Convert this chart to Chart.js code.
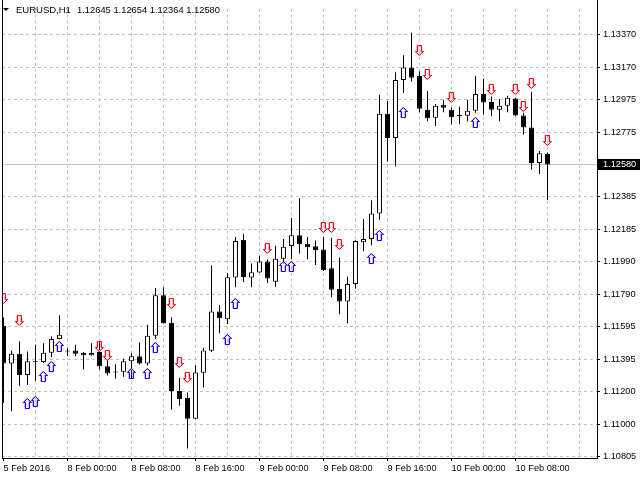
<!DOCTYPE html>
<html><head><meta charset="utf-8">
<style>html,body{margin:0;padding:0;background:#fff;overflow:hidden}#wrap{width:640px;height:480px}</style>
<script src="https://cdn.jsdelivr.net/npm/chart.js@4.4.1/dist/chart.umd.min.js"></script>
</head><body><div id="wrap"><canvas id="c" width="640" height="480"></canvas></div>
<script>
const symbolLabel = 'EURUSD,H1';
const opens = [1.11600,1.11370,1.11430,1.11300,1.11382,1.11380,1.11436,1.11520,1.11446,1.11450,
1.11434,1.11420,1.11440,1.11354,1.11318,1.11320,1.11384,1.11414,1.11370,1.11540,
1.11786,1.11618,1.11204,1.11162,1.11035,1.11314,1.11448,1.11686,1.11640,1.11894,
1.12123,1.11894,1.11924,1.11990,1.11867,1.12008,1.12085,1.12151,1.12099,1.12083,
1.12063,1.11949,1.11824,1.11747,1.11854,1.12107,1.12127,1.12283,1.12889,1.12742,
1.13094,1.13170,1.13118,1.12913,1.12865,1.12944,1.12913,1.12878,1.12877,1.12907,
1.13009,1.12961,1.12913,1.12937,1.12982,1.12878,1.12805,1.12589,1.12645];
const highs = [1.11650,1.11450,1.11504,1.11444,1.11484,1.11494,1.11536,1.11664,1.11464,1.11484,
1.11440,1.11494,1.11500,1.11388,1.11366,1.11400,1.11434,1.11500,1.11606,1.11830,
1.11834,1.11650,1.11284,1.11194,1.11360,1.11466,1.11967,1.11726,1.11919,1.12139,
1.12159,1.11979,1.12026,1.12003,1.12087,1.12127,1.12255,1.12375,1.12139,1.12119,
1.12139,1.12135,1.12015,1.11900,1.12120,1.12249,1.12363,1.13004,1.12967,1.13142,
1.13244,1.13382,1.13148,1.13028,1.12949,1.12974,1.12928,1.12932,1.12974,1.13118,
1.13102,1.12994,1.12979,1.12998,1.12986,1.12895,1.13022,1.12663,1.12654];
const lows = [1.11130,1.11080,1.11234,1.11240,1.11266,1.11374,1.11410,1.11518,1.11416,1.11414,
1.11334,1.11418,1.11334,1.11298,1.11280,1.11290,1.11280,1.11364,1.11359,1.11520,
1.11614,1.11089,1.11113,1.10854,1.11032,1.11224,1.11440,1.11554,1.11610,1.11834,
1.11866,1.11834,1.11922,1.11860,1.11836,1.11978,1.12005,1.12039,1.12005,1.11969,
1.11933,1.11774,1.11670,1.11616,1.11825,1.12053,1.12089,1.12245,1.12599,1.12569,
1.13015,1.13084,1.12898,1.12844,1.12814,1.12898,1.12825,1.12825,1.12844,1.12895,
1.12884,1.12874,1.12844,1.12898,1.12874,1.12763,1.12549,1.12523,1.12364];
const closes = [1.11370,1.11430,1.11300,1.11384,1.11378,1.11436,1.11520,1.11546,1.11444,1.11430,
1.11420,1.11434,1.11354,1.11310,1.11316,1.11384,1.11414,1.11370,1.11540,1.11786,
1.11616,1.11203,1.11155,1.11034,1.11316,1.11450,1.11686,1.11646,1.11895,1.12115,
1.11897,1.11925,1.11990,1.11888,1.12008,1.12080,1.12151,1.12095,1.12077,1.12059,
1.11939,1.11819,1.11747,1.11854,1.12115,1.12127,1.12283,1.12889,1.12742,1.13094,
1.13170,1.13108,1.12919,1.12862,1.12938,1.12925,1.12868,1.12875,1.12907,1.13009,
1.12958,1.12913,1.12937,1.12986,1.12878,1.12805,1.12589,1.12649,1.12580];

const xTickBars = [0,8,16,24,32,40,48,56,64];
const xTickLabels = ['5 Feb 2016','8 Feb 00:00','8 Feb 08:00','8 Feb 16:00','9 Feb 00:00','9 Feb 08:00','9 Feb 16:00','10 Feb 00:00','10 Feb 08:00'];
const yTickLabels = ['1.13370','1.13170','1.12975','1.12775','1.12385','1.12185','1.11990','1.11790','1.11595','1.11395','1.11200','1.11000','1.10805'];

const sellBars   = [0,2,12,13,21,22,23,33,40,41,42,52,53,56,61,64,65,66,68];
const sellLevels = [1.11764,1.11635,1.11473,1.11422,1.11737,1.11377,1.11287,1.12072,1.12195,1.12195,1.12096,1.13274,1.13127,1.12986,1.13037,1.13034,1.12935,1.13073,1.12726];
const buyBars    = [3,4,5,6,7,16,18,19,28,29,35,36,46,47,50,59];
const buyLevels  = [1.11125,1.11137,1.11293,1.11353,1.11473,1.11311,1.11311,1.11467,1.11518,1.11737,1.11958,1.11958,1.12006,1.12147,1.12899,1.12837];

const FONT = 'Liberation Sans';

function makeArrow(up, color, fringe) {
  const c = document.createElement('canvas');
  c.width = 11; c.height = 11;
  const g = c.getContext('2d');
  const pts = [[4.5,0.5],[8.5,4.5],[6.5,4.5],[6.5,10.5],[2.5,10.5],[2.5,4.5],[0.5,4.5]];
  function path(dx) {
    g.beginPath();
    pts.forEach((p, k) => {
      const x = p[0] + dx, y = up ? p[1] : 11 - p[1];
      if (k) g.lineTo(x, y); else g.moveTo(x, y);
    });
    g.closePath();
  }
  g.lineWidth = 1;
  g.strokeStyle = fringe; path(0); g.stroke();
  g.strokeStyle = color; path(1); g.stroke();
  return c;
}
const upImg = makeArrow(true, '#0000ff', '#d8b0ff');
const downImg = makeArrow(false, '#ff0000', '#ffb8f0');

const wickData = opens.map((o, i) => ({x: i, y: [lows[i], highs[i]]}));
const bodyData = opens.map((o, i) => ({x: i, y: [o, closes[i]]}));
const bodyColors = opens.map((o, i) => closes[i] > o ? '#ffffff' : '#000000');
const buyData = buyBars.map((b, k) => ({x: b, y: buyLevels[k]}));
const sellData = sellBars.map((b, k) => ({x: b, y: sellLevels[k]}));

const overlay = {
  id: 'overlay',
  beforeDraw(chart) { chart.ctx.imageSmoothingEnabled = false; },
  beforeDatasetsDraw(chart) {
    const {ctx, chartArea: a, scales: {y}} = chart;
    ctx.imageSmoothingEnabled = false;
    const py = Math.floor(y.getPixelForValue(closes[closes.length - 1])) + 0.5;
    ctx.save();
    ctx.strokeStyle = '#c0c0c0'; ctx.lineWidth = 1;
    ctx.beginPath(); ctx.moveTo(a.left, py); ctx.lineTo(a.right, py); ctx.stroke();
    ctx.restore();
  },
  afterDraw(chart) {
    const {ctx, chartArea: a, scales: {y}} = chart;
    ctx.save();
    ctx.fillStyle = '#000';
    ctx.fillRect(a.left, 0, 1, a.bottom + 1);
    ctx.fillRect(a.right, 0, 1, a.bottom + 1);
    ctx.fillRect(a.left, a.bottom, a.right - a.left + 1, 1);
    const last = closes[closes.length - 1];
    const py = Math.floor(y.getPixelForValue(last));
    ctx.fillRect(a.right + 1, py - 5, 640 - a.right - 1, 11);
    ctx.fillStyle = '#fff';
    ctx.font = '9.2px "' + FONT + '"';
    ctx.textBaseline = 'middle';
    ctx.fillText(last.toFixed(5), a.right + 6, py + 0.5);
    ctx.fillStyle = '#000';
    ctx.beginPath(); ctx.moveTo(3, 8); ctx.lineTo(9, 8); ctx.lineTo(6, 11); ctx.closePath(); ctx.fill();
    ctx.font = '9.5px "' + FONT + '"';
    ctx.fillText(symbolLabel, 16, 10.5);
    const n = opens.length - 1;
    const txt = [opens[n], highs[n], lows[n], closes[n]].map(v => v.toFixed(5)).join(' ');
    ctx.fillText(txt, 77, 10.5, 143);
    ctx.restore();
  }
};

new Chart(document.getElementById('c'), {
  type: 'bar',
  data: {
    datasets: [
      {type: 'bar', data: wickData, backgroundColor: '#000', borderWidth: 0, barThickness: 1, grouped: false, inflateAmount: 0, order: 3, clip: 0},
      {type: 'bar', data: bodyData, backgroundColor: bodyColors, borderColor: '#000', borderWidth: 1, borderSkipped: false, barThickness: 5, grouped: false, inflateAmount: 0, minBarLength: 1, order: 2, clip: 0},
      {type: 'scatter', data: buyData, pointStyle: upImg, pointRadius: 5, order: 1, clip: 0},
      {type: 'scatter', data: sellData, pointStyle: downImg, pointRadius: 5, order: 0, clip: 0}
    ]
  },
  options: {
    responsive: false,
    devicePixelRatio: 1,
    animation: false,
    events: [],
    layout: {autoPadding: false, padding: {left: 2, top: 2, right: 0, bottom: 0}},
    plugins: {legend: {display: false}, tooltip: {enabled: false}, title: {display: false}},
    scales: {
      x: {
        type: 'linear', offset: false,
        min: -0.1875, max: 74.1875,
        afterBuildTicks: s => { const t = []; for (let v = 0; v <= 72; v += 4) t.push({value: v}); s.ticks = t; },
        afterFit: s => { s.height = 22; },
        grid: {
          offset: false, drawOnChartArea: true, drawTicks: true, tickLength: 3,
          color: c => (c.tick && c.tick.value === 0) ? 'rgba(0,0,0,0)' : '#c0c0c0',
          tickColor: c => (c.tick && xTickBars.indexOf(c.tick.value) >= 0) ? '#000' : 'rgba(0,0,0,0)',
          lineWidth: 1
        },
        border: {display: false, dash: [3, 3]},
        ticks: {
          autoSkip: false, maxRotation: 0, minRotation: 0, align: 'start', padding: 2,
          color: '#000', font: {family: FONT, size: 9.2},
          callback: v => { const k = xTickBars.indexOf(v); return k >= 0 ? xTickLabels[k] : ''; }
        }
      },
      y: {
        type: 'linear', position: 'right',
        min: 1.1079601, max: 1.1352881,
        afterBuildTicks: s => { s.ticks = yTickLabels.map(l => ({value: parseFloat(l)})); },
        afterFit: s => { s.width = 43; },
        grid: {color: '#c0c0c0', lineWidth: 1, drawTicks: true, tickLength: 3, tickColor: '#000'},
        border: {display: false, dash: [3, 3]},
        ticks: {
          autoSkip: false, padding: 3, color: '#000', font: {family: FONT, size: 9.2},
          callback: v => v.toFixed(5)
        }
      }
    }
  },
  plugins: [overlay]
});
</script>
</body></html>
